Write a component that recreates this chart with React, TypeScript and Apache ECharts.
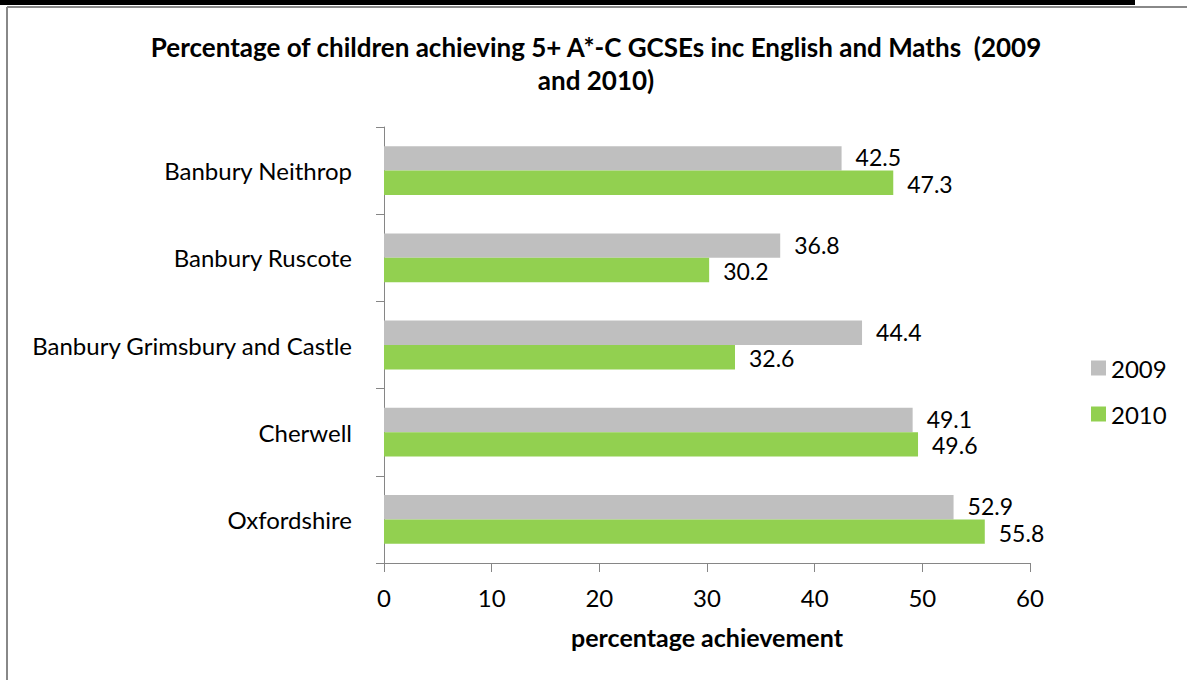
import React, { useEffect, useRef } from "react";
import * as echarts from "echarts";

const categories = ["Banbury Neithrop", "Banbury Ruscote", "Banbury Grimsbury and Castle", "Cherwell", "Oxfordshire"];
const values2009 = [42.5, 36.8, 44.4, 49.1, 52.9];
const values2010 = [47.3, 30.2, 32.6, 49.6, 55.8];
const seriesNames = ["2009", "2010"];
const titleText = "Percentage of children achieving 5+ A*-C GCSEs inc English and Maths  (2009\nand 2010)";
const xAxisName = "percentage achievement";

const FONT = "Lato, 'Open Sans', sans-serif";

export default function App() {
  const ref = useRef<HTMLDivElement>(null);
  useEffect(() => {
    const chart = echarts.init(ref.current!, null, { renderer: "svg" });
    const label = (dy: number) => ({
      show: true,
      position: "right",
      distance: 14,
      offset: [0, dy],
      color: "#000",
      fontSize: 23,
      lineHeight: 22,
      fontFamily: FONT,
    });
    chart.setOption({
      animation: false,
      backgroundColor: "#fff",
      title: {
        text: titleText,
        left: 591,
        textAlign: "center",
        top: 25,
        textStyle: { fontFamily: FONT, fontWeight: "bold", fontSize: 26, color: "#000", lineHeight: 33 },
      },
      legend: {
        orient: "vertical",
        left: 1086,
        top: 351,
        itemWidth: 15,
        itemHeight: 15,
        itemGap: 22,
        icon: "rect",
        textStyle: { fontFamily: FONT, fontSize: 24, color: "#000" },
        data: seriesNames,
      },
      grid: { left: 384, right: 157, top: 127, bottom: 117, containLabel: false },
      xAxis: {
        type: "value",
        min: 0,
        max: 60,
        interval: 10,
        name: xAxisName,
        nameLocation: "middle",
        nameGap: 61,
        nameTextStyle: { fontFamily: FONT, fontWeight: "bold", fontSize: 25, color: "#000" },
        axisLine: { show: true, lineStyle: { color: "#868686", width: 1 } },
        axisTick: { show: true, length: 9, lineStyle: { color: "#868686" } },
        axisLabel: { fontFamily: FONT, fontSize: 24, color: "#000", margin: 22 },
        splitLine: { show: false },
      },
      yAxis: {
        type: "category",
        data: categories,
        inverse: true,
        axisLine: { show: true, lineStyle: { color: "#868686", width: 1 } },
        axisTick: { show: true, length: 8, inside: false, lineStyle: { color: "#868686" } },
        axisLabel: { fontFamily: FONT, fontSize: 24, color: "#000", margin: 32 },
      },
      series: [
        {
          name: seriesNames[0],
          type: "bar",
          data: values2009,
          itemStyle: { color: "#BFBFBF" },
          barGap: "0%",
          barCategoryGap: "44%",
          label: label(-1),
        },
        {
          name: seriesNames[1],
          type: "bar",
          data: values2010,
          itemStyle: { color: "#92D050" },
          barGap: "0%",
          barCategoryGap: "44%",
          label: label(1),
        },
      ],
      graphic: [
        { type: "rect", shape: { x: 0, y: 0, width: 1135, height: 5 }, style: { fill: "#000" } },
        { type: "line", shape: { x1: 7, y1: 7, x2: 1187, y2: 7 }, style: { stroke: "#888", lineWidth: 2 } },
        { type: "line", shape: { x1: 7, y1: 7, x2: 7, y2: 680 }, style: { stroke: "#888", lineWidth: 2 } },
      ],
    });
    return () => chart.dispose();
  }, []);
  return <div ref={ref} style={{ position: "absolute", left: 0, top: 0, width: 1187, height: 680 }} />;
}
